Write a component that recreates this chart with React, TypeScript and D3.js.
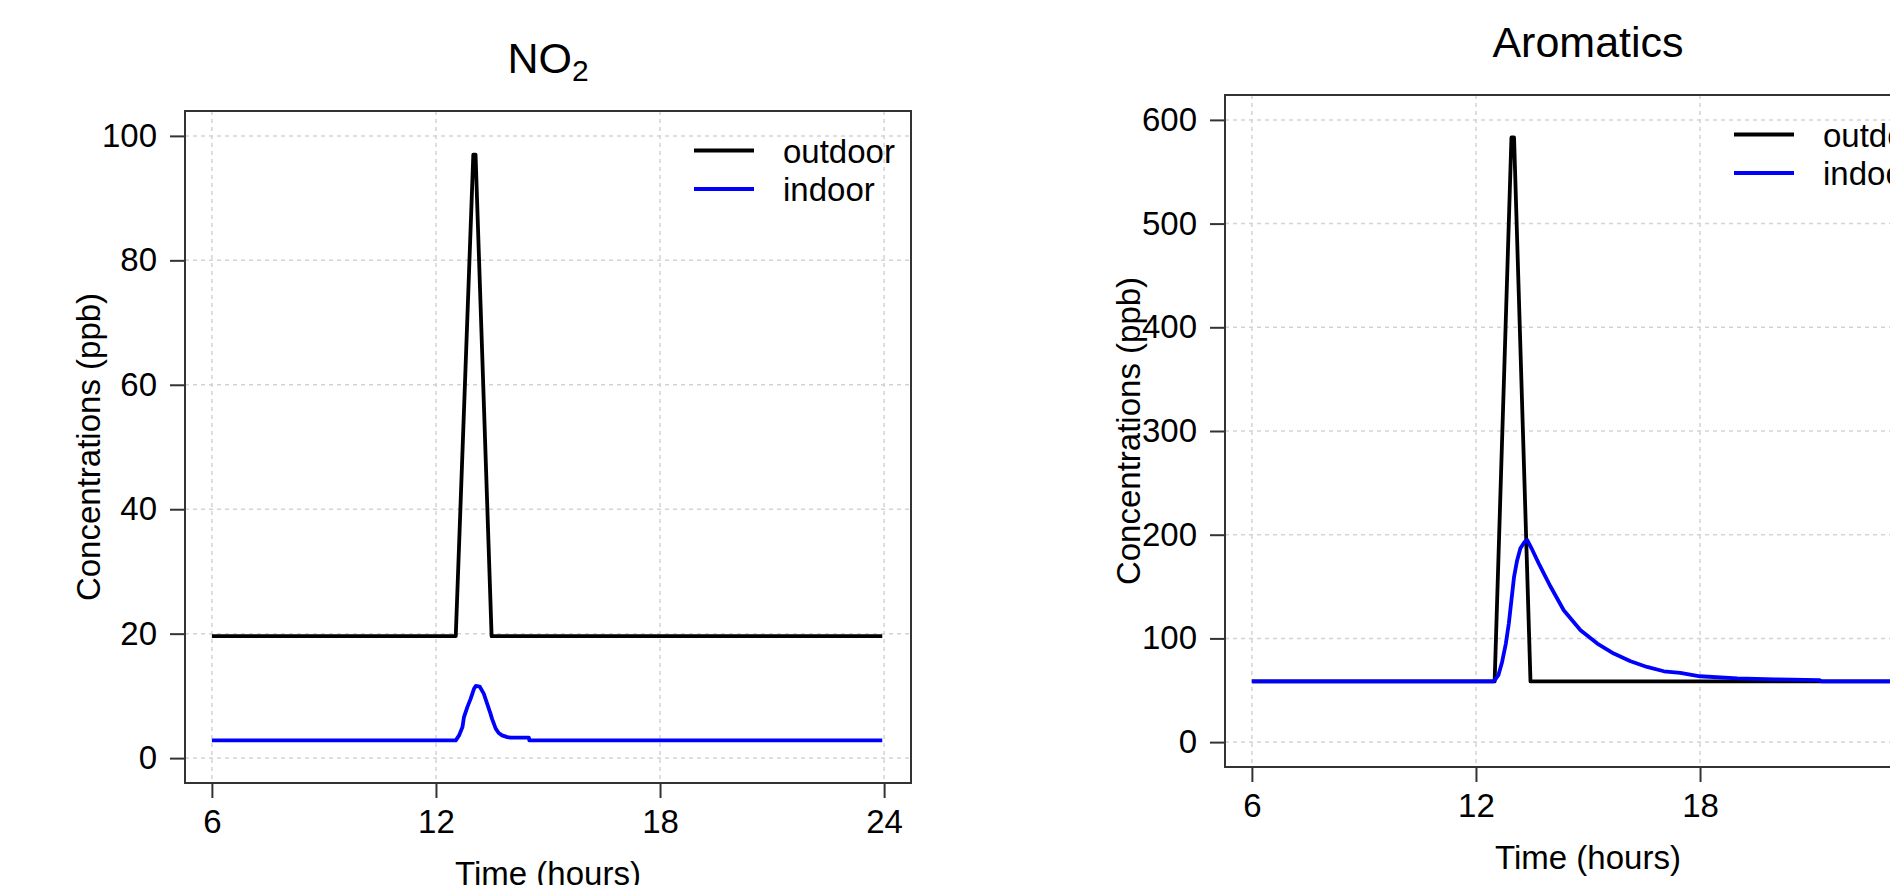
import React, { useEffect, useRef } from "react";
import * as d3 from "d3";

// tick labels
const hourTicks = [6, 12, 18, 24];
const no2Ticks = [0, 20, 40, 60, 80, 100];
const aromaticsTicks = [0, 100, 200, 300, 400, 500, 600];
const legendLabels = ["outdoor", "indoor"];

// NO2 (ppb) vs time of day (hours)
const no2OutdoorHours = [6, 12.53, 13.0, 13.06, 13.49, 23.95];
const no2OutdoorPpb = [19.6, 19.6, 97, 97, 19.6, 19.6];
const no2IndoorHours = [
  6, 12.53, 12.62, 12.71, 12.75, 12.84, 12.93, 13.02, 13.07, 13.17, 13.28,
  13.37, 13.46, 13.5, 13.6, 13.68, 13.77, 13.91, 14.0, 14.49, 14.5, 23.95,
];
const no2IndoorPpb = [
  2.85, 2.85, 3.66, 5.0, 6.6, 8.2, 9.56, 11.17, 11.6, 11.5, 10.37, 8.76,
  7.15, 6.34, 4.73, 4.03, 3.66, 3.38, 3.28, 3.28, 2.85, 2.85,
];

// Aromatics (ppb) vs time of day (hours)
const aroOutdoorHours = [6, 12.5, 12.95, 13.02, 13.46, 23.95];
const aroOutdoorPpb = [58.6, 58.6, 583, 583, 58.6, 58.6];
const aroIndoorHours = [
  6, 12.48, 12.6, 12.7, 12.8, 12.88, 13.02, 13.1, 13.19, 13.3, 13.37, 13.5,
  13.68, 14.0, 14.35, 14.8, 15.25, 15.69, 16.14, 16.58, 17.03, 17.47, 18.0,
  19.0, 20.0, 21.2, 21.25, 23.95,
];
const aroIndoorPpb = [
  58.6, 58.6, 64.5, 77.3, 95, 114.4, 159.4, 175, 186.9, 193, 194.9, 186,
  172.4, 149.8, 127.2, 107.9, 95.0, 85.4, 78.0, 72.5, 68.3, 66.7, 63.5, 61.5,
  60.5, 59.8, 58.6, 58.6,
];

const FONT = "'Liberation Sans', Arial, sans-serif";
const PANEL_W = 726;
const PANEL_H = 672;

const Panel = ({ left, top, title, sub, yMax, yTicks, outdoor, indoor }) => {
  const gRef = useRef();

  useEffect(() => {
    const g = d3.select(gRef.current);
    g.selectAll("*").remove();

    // R style 4% axis expansion
    const xPad = (24 - 6) * 0.04;
    const yPad = yMax * 0.04;
    const xScale = d3
      .scaleLinear()
      .domain([6 - xPad, 24 + xPad])
      .range([left, left + PANEL_W]);
    const yScale = d3
      .scaleLinear()
      .domain([-yPad, yMax + yPad])
      .range([top + PANEL_H, top]);

    // grid
    const grid = g
      .append("g")
      .attr("stroke", "#d3d3d3")
      .attr("stroke-width", 1.5)
      .attr("stroke-dasharray", "4 4");
    grid
      .selectAll(".gx")
      .data(hourTicks)
      .enter()
      .append("line")
      .attr("class", "gx")
      .attr("x1", (d) => xScale(d))
      .attr("x2", (d) => xScale(d))
      .attr("y1", top)
      .attr("y2", top + PANEL_H);
    grid
      .selectAll(".gy")
      .data(yTicks)
      .enter()
      .append("line")
      .attr("class", "gy")
      .attr("x1", left)
      .attr("x2", left + PANEL_W)
      .attr("y1", (d) => yScale(d))
      .attr("y2", (d) => yScale(d));

    const line = d3
      .line()
      .x((d) => xScale(d[0]))
      .y((d) => yScale(d[1]));

    [
      { pts: d3.zip(outdoor[0], outdoor[1]), color: "#000000" },
      { pts: d3.zip(indoor[0], indoor[1]), color: "#0000ff" },
    ].forEach((s) => {
      g.append("path")
        .datum(s.pts)
        .attr("fill", "none")
        .attr("stroke", s.color)
        .attr("stroke-width", 3.8)
        .attr("stroke-linejoin", "round")
        .attr("d", line);
    });

    // box
    g.append("rect")
      .attr("x", left)
      .attr("y", top)
      .attr("width", PANEL_W)
      .attr("height", PANEL_H)
      .attr("fill", "none")
      .attr("stroke", "#333")
      .attr("stroke-width", 2);

    const xAxis = d3.axisBottom(xScale).tickValues(hourTicks).tickSize(15).tickPadding(12);
    const yAxis = d3.axisLeft(yScale).tickValues(yTicks).tickSize(15).tickPadding(13);

    [
      g.append("g").attr("transform", `translate(0,${top + PANEL_H})`).call(xAxis),
      g.append("g").attr("transform", `translate(${left},0)`).call(yAxis),
    ].forEach((ax) => {
      ax.select(".domain").remove();
      ax.attr("font-size", 33).attr("font-family", FONT).attr("color", "#333");
      ax.selectAll("line").attr("stroke-width", 2);
      ax.selectAll("text").attr("fill", "#000");
    });

    // axis titles
    g.append("text")
      .attr("x", left + PANEL_W / 2)
      .attr("y", top + PANEL_H + 102)
      .attr("text-anchor", "middle")
      .attr("font-size", 33)
      .attr("font-family", FONT)
      .text("Time (hours)");
    g.append("text")
      .attr("transform", `translate(${left - 85},${top + PANEL_H / 2}) rotate(-90)`)
      .attr("text-anchor", "middle")
      .attr("font-size", 33)
      .attr("font-family", FONT)
      .text("Concentrations (ppb)");

    const t = g
      .append("text")
      .attr("x", left + PANEL_W / 2)
      .attr("y", top - 38)
      .attr("text-anchor", "middle")
      .attr("font-size", 43)
      .attr("font-family", FONT);
    t.append("tspan").text(title);
    if (sub) t.append("tspan").attr("font-size", 30).attr("dy", 8).text(sub);

    // legend
    const legend = g.append("g");
    legendLabels.forEach((label, i) => {
      const ly = top + 39.5 + i * 38.5;
      legend
        .append("line")
        .attr("x1", left + 509)
        .attr("x2", left + 569)
        .attr("y1", ly)
        .attr("y2", ly)
        .attr("stroke", i === 0 ? "#000000" : "#0000ff")
        .attr("stroke-width", 3.8);
      legend
        .append("text")
        .attr("x", left + 598)
        .attr("y", ly + 12)
        .attr("font-size", 33)
        .attr("font-family", FONT)
        .text(label);
    });
  }, [left, top, title, sub, yMax, yTicks, outdoor, indoor]);

  return <g ref={gRef} />;
};

const App = () => {
  return (
    <svg
      width={1890}
      height={885}
      style={{ position: "absolute", left: 0, top: 0, background: "#fff" }}
    >
      <Panel
        left={185}
        top={111}
        title="NO"
        sub="2"
        yMax={100}
        yTicks={no2Ticks}
        outdoor={[no2OutdoorHours, no2OutdoorPpb]}
        indoor={[no2IndoorHours, no2IndoorPpb]}
      />
      <Panel
        left={1225}
        top={95}
        title="Aromatics"
        sub=""
        yMax={600}
        yTicks={aromaticsTicks}
        outdoor={[aroOutdoorHours, aroOutdoorPpb]}
        indoor={[aroIndoorHours, aroIndoorPpb]}
      />
    </svg>
  );
};

export default App;
